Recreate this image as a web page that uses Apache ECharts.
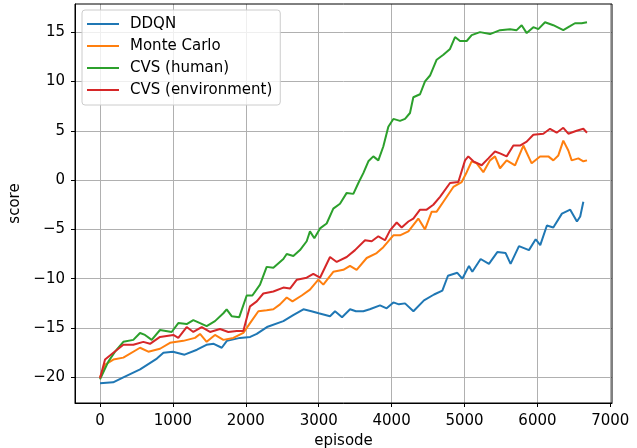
<!DOCTYPE html>
<html>
<head>
<meta charset="utf-8">
<script src="https://cdn.jsdelivr.net/npm/echarts@6/dist/echarts.min.js"></script>
<style>html,body{margin:0;padding:0;background:#fff}#c{width:637px;height:448px}</style>
</head>
<body>
<div id="c"></div>
<script>
const seriesNames = ['DDQN', 'Monte Carlo', 'CVS (human)', 'CVS (environment)'];
const xTicks = [0, 1000, 2000, 3000, 4000, 5000, 6000, 7000];
const yTicks = [-20, -15, -10, -5, 0, 5, 10, 15];

const ddqn = [[0,-20.6],[180,-20.5],[320,-20.0],[550,-19.2],[780,-18.1],[870,-17.5],[1000,-17.4],[1160,-17.7],[1330,-17.2],[1460,-16.7],[1560,-16.6],[1670,-17.0],[1740,-16.3],[1920,-16.0],[2060,-15.9],[2150,-15.6],[2290,-14.9],[2515,-14.3],[2650,-13.7],[2790,-13.1],[2900,-13.3],[3000,-13.5],[3155,-13.8],[3224,-13.3],[3320,-13.9],[3430,-13.1],[3510,-13.3],[3612,-13.3],[3700,-13.1],[3841,-12.7],[3932,-13.0],[4024,-12.4],[4100,-12.6],[4184,-12.5],[4299,-13.3],[4444,-12.2],[4582,-11.6],[4696,-11.2],[4773,-9.7],[4901,-9.4],[4970,-10.0],[5061,-8.7],[5107,-9.3],[5221,-8.0],[5335,-8.5],[5450,-7.3],[5564,-7.4],[5632,-8.5],[5747,-6.7],[5884,-7.1],[5976,-6.0],[6039,-6.6],[6130,-4.6],[6218,-4.8],[6336,-3.4],[6450,-3.0],[6542,-4.2],[6587,-3.7],[6630,-2.2]];

const monteCarlo = [[0,-20.0],[70,-18.7],[183,-18.2],[320,-18.0],[549,-17.0],[663,-17.4],[823,-17.1],[960,-16.5],[1143,-16.3],[1303,-16.0],[1372,-15.6],[1463,-16.4],[1577,-15.7],[1692,-16.2],[1829,-16.0],[1966,-15.5],[2058,-14.5],[2172,-13.3],[2286,-13.2],[2378,-13.1],[2469,-12.6],[2561,-11.9],[2640,-12.3],[2767,-11.7],[2880,-11.1],[2995,-10.1],[3063,-10.6],[3200,-9.3],[3338,-9.1],[3429,-8.7],[3520,-9.1],[3658,-7.9],[3795,-7.4],[3886,-6.8],[4024,-5.6],[4115,-5.6],[4230,-5.2],[4366,-3.9],[4458,-5.0],[4550,-3.2],[4618,-3.2],[4710,-2.2],[4847,-0.7],[4961,-0.2],[5030,0.8],[5098,1.9],[5167,1.7],[5258,0.8],[5350,2.0],[5418,2.4],[5487,1.2],[5578,2.0],[5693,1.5],[5807,3.5],[5921,1.7],[6036,2.4],[6150,2.4],[6218,2.0],[6287,2.5],[6355,4.0],[6424,3.0],[6470,2.0],[6561,2.2],[6630,1.9],[6680,2.0]];

const cvsHuman = [[0,-20.2],[114,-18.4],[206,-17.4],[320,-16.4],[457,-16.2],[549,-15.5],[617,-15.7],[709,-16.2],[823,-15.2],[983,-15.4],[1074,-14.5],[1189,-14.6],[1280,-14.2],[1372,-14.5],[1463,-14.8],[1577,-14.3],[1692,-13.5],[1737,-13.1],[1806,-13.8],[1910,-13.9],[2012,-11.7],[2090,-11.7],[2195,-10.6],[2286,-8.8],[2378,-8.9],[2515,-8.0],[2561,-7.5],[2652,-7.7],[2743,-7.1],[2835,-6.2],[2880,-5.2],[2940,-5.9],[3018,-4.9],[3109,-4.4],[3200,-2.9],[3292,-2.4],[3384,-1.3],[3475,-1.4],[3544,-0.3],[3612,0.7],[3681,1.9],[3749,2.4],[3818,2.0],[3886,3.4],[3955,5.4],[4024,6.2],[4115,6.0],[4184,6.2],[4252,6.8],[4298,8.4],[4390,8.7],[4458,10.0],[4527,10.6],[4618,12.2],[4710,12.7],[4801,13.3],[4870,14.5],[4938,14.1],[5030,14.1],[5098,14.7],[5212,15.0],[5350,14.8],[5487,15.2],[5624,15.3],[5715,15.2],[5784,15.7],[5853,14.9],[5944,15.5],[6012,15.3],[6104,16.0],[6218,15.7],[6355,15.2],[6447,15.6],[6515,15.9],[6607,15.9],[6680,16.0]];

const cvsEnv = [[0,-20.1],[69,-18.2],[183,-17.5],[320,-16.7],[457,-16.7],[594,-16.4],[686,-16.6],[823,-15.9],[1006,-15.7],[1074,-16.0],[1189,-14.9],[1280,-15.4],[1395,-14.9],[1509,-15.4],[1646,-15.1],[1760,-15.4],[1875,-15.3],[1966,-15.3],[2012,-14.0],[2058,-12.8],[2150,-12.3],[2240,-11.5],[2378,-11.3],[2515,-10.9],[2606,-11.0],[2700,-10.1],[2835,-9.9],[2926,-9.5],[3018,-9.9],[3155,-7.8],[3247,-8.3],[3384,-7.8],[3498,-7.1],[3635,-6.1],[3727,-6.2],[3818,-5.7],[3909,-6.1],[3978,-5.1],[4070,-4.3],[4138,-4.8],[4230,-4.2],[4298,-3.9],[4390,-3.0],[4481,-3.0],[4572,-2.5],[4664,-1.7],[4801,-0.3],[4915,-0.2],[5007,2.0],[5052,2.4],[5121,1.9],[5235,1.5],[5327,2.2],[5418,2.9],[5487,2.7],[5578,2.4],[5670,3.5],[5761,3.5],[5853,3.9],[5944,4.6],[6081,4.7],[6173,5.2],[6264,4.8],[6355,5.3],[6424,4.7],[6538,5.0],[6630,5.2],[6680,4.8]];

const colors = ['#1f77b4', '#ff7f0e', '#2ca02c', '#d62728'];
const allData = [ddqn, monteCarlo, cvsHuman, cvsEnv];

const font = 'DejaVu Sans';
const fs = 15;
const fmt = v => String(v).replace('-', '\u2212');

const chart = echarts.init(document.getElementById('c'), null, {renderer: 'canvas'});
chart.setOption({
  animation: false,
  backgroundColor: '#fff',
  grid: {left: 75, right: 25, top: 4, bottom: 45, containLabel: false, outerBoundsMode: 'none', show: true, borderColor: '#000', borderWidth: 1, backgroundColor: 'transparent', z: 3},
  legend: {
    orient: 'vertical', left: 82, top: 10,
    padding: [6, 8, 7, 5],
    itemWidth: 32, itemHeight: 2, itemGap: 6,
    icon: 'rect',
    backgroundColor: 'rgba(255,255,255,0.8)',
    borderColor: '#cccccc', borderWidth: 1, borderRadius: 3,
    textStyle: {fontFamily: font, fontSize: fs, color: '#000', lineHeight: 16, padding: [0, 0, 0, 6]},
    data: seriesNames
  },
  xAxis: {
    type: 'value', min: -343, max: 7023,
    name: 'episode', nameLocation: 'middle', nameGap: 30,
    nameTextStyle: {fontFamily: font, fontSize: fs, color: '#000'},
    axisLine: {show: true, onZero: false, lineStyle: {color: '#000', width: 1}},
    axisTick: {show: true, length: 4, lineStyle: {color: '#000'}, customValues: xTicks},
    axisLabel: {fontFamily: font, fontSize: fs, color: '#000', margin: 11, customValues: xTicks, formatter: fmt},
    splitLine: {show: true, lineStyle: {color: '#b0b0b0', width: 1}}
  },
  yAxis: {
    type: 'value', min: -22.6, max: 17.85,
    name: 'score', nameLocation: 'middle', nameGap: 48, nameRotate: 90,
    nameTextStyle: {fontFamily: font, fontSize: fs, color: '#000'},
    axisLine: {show: true, onZero: false, lineStyle: {color: '#000', width: 1}},
    axisTick: {show: true, length: 4, lineStyle: {color: '#000'}, customValues: yTicks},
    axisLabel: {fontFamily: font, fontSize: fs, color: '#000', margin: 10, customValues: yTicks, formatter: fmt},
    splitLine: {show: true, lineStyle: {color: '#b0b0b0', width: 1}}
  },
  series: seriesNames.map((n, i) => ({
    name: n, type: 'line', data: allData[i], symbol: 'none', showSymbol: false,
    lineStyle: {color: colors[i], width: 2}, itemStyle: {color: colors[i]},
    z: 2 + i
  }))
});
</script>
</body>
</html>
